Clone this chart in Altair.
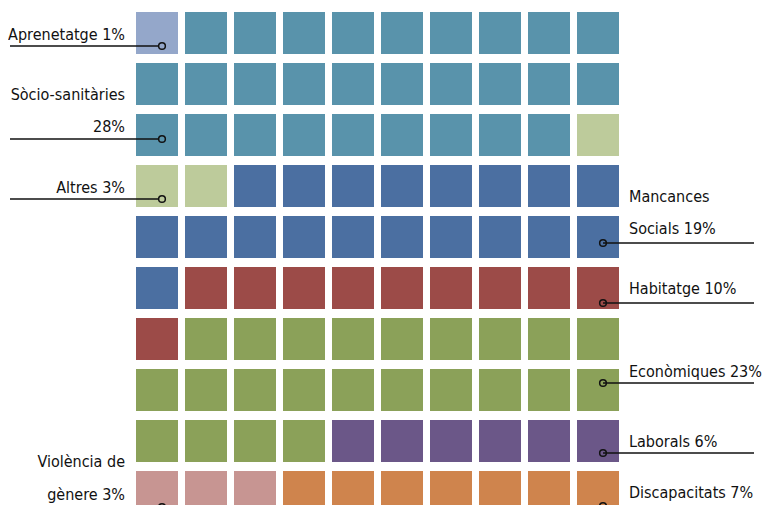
import altair as alt
import pandas as pd

# ---- data ----
categories = ["Aprenetatge", "Sòcio-sanitàries", "Altres", "Mancances Socials",
              "Habitatge", "Econòmiques", "Laborals", "Violència de gènere", "Discapacitats"]
percentages = [1, 28, 3, 19, 10, 23, 6, 3, 7]
colors = ["#94a7ca", "#5993ab", "#bdcb9b", "#4b6fa1", "#9c4b48",
          "#8ba159", "#6b5788", "#c79592", "#cf844d"]

# ---- waffle cells (10 x 10), filled left-to-right, top-to-bottom ----
CELL_W = 42 / 49   # cell width in column units
CELL_H = 42 / 51   # cell height in row units
cells = []
i = 0
for cat, pct in zip(categories, percentages):
    for _ in range(pct):
        r, c = divmod(i, 10)
        cells.append({"cat": cat, "x": c, "x2": c + CELL_W, "y": r, "y2": r + CELL_H})
        i += 1
cells_df = pd.DataFrame(cells)

# ---- annotations (grid units: column = 49px, row = 51px) ----
def gx(px):  # screenshot px -> column units
    return (px - 136) / 49

def gy(py):  # screenshot px -> row units
    return (py - 12) / 51

lbl = {c: f"{p}%" for c, p in zip(categories, percentages)}
texts = [
    # (text, side, baseline px)
    ("Aprenetatge " + lbl["Aprenetatge"], "L", 40),
    ("Sòcio-sanitàries", "L", 100),
    (lbl["Sòcio-sanitàries"], "L", 132),
    ("Altres " + lbl["Altres"], "L", 193),
    ("Violència de", "L", 467),
    ("gènere " + lbl["Violència de gènere"], "L", 500),
    ("Mancances", "R", 202),
    ("Socials " + lbl["Mancances Socials"], "R", 234),
    ("Habitatge " + lbl["Habitatge"], "R", 294),
    ("Econòmiques " + lbl["Econòmiques"], "R", 377),
    ("Laborals " + lbl["Laborals"], "R", 447),
    ("Discapacitats " + lbl["Discapacitats"], "R", 498),
]
text_df = pd.DataFrame([
    {"t": t, "side": s, "x": gx(125) if s == "L" else gx(629), "y": gy(b)}
    for t, s, b in texts
])

leaders = [  # (side, y px)
    ("L", 46), ("L", 139), ("L", 199), ("L", 507),
    ("R", 243), ("R", 303), ("R", 383), ("R", 453), ("R", 506),
]
lead_df = pd.DataFrame([
    {"x": gx(10) if s == "L" else gx(603),
     "x2": gx(159) if s == "L" else gx(754),
     "cx": gx(162) if s == "L" else gx(603),
     "y": gy(yy)}
    for s, yy in leaders
])

W, H = 757, 520
xs = alt.Scale(domain=[gx(8), gx(8 + W)], nice=False, zero=False)
ys = alt.Scale(domain=[gy(8), gy(8 + H)], nice=False, zero=False, reverse=True)

rects = alt.Chart(cells_df).mark_rect().encode(
    x=alt.X("x:Q", scale=xs, axis=None),
    x2="x2:Q",
    y=alt.Y("y:Q", scale=ys, axis=None),
    y2="y2:Q",
    color=alt.Color("cat:N", scale=alt.Scale(domain=categories, range=colors), legend=None),
)

rules = alt.Chart(lead_df).mark_rule(color="#111111", strokeWidth=1.5).encode(
    x=alt.X("x:Q", scale=xs, axis=None),
    x2="x2:Q",
    y=alt.Y("y:Q", scale=ys, axis=None),
)

dots = alt.Chart(lead_df).mark_point(
    filled=False, color="#111111", strokeWidth=1.5, size=45, opacity=1
).encode(
    x=alt.X("cx:Q", scale=xs, axis=None),
    y=alt.Y("y:Q", scale=ys, axis=None),
)

text_style = dict(font="DejaVu Sans Condensed", fontSize=16, color="#111111",
                  baseline="alphabetic")
left_txt = alt.Chart(text_df).transform_filter("datum.side == 'L'").mark_text(
    align="right", **text_style
).encode(
    x=alt.X("x:Q", scale=xs, axis=None),
    y=alt.Y("y:Q", scale=ys, axis=None),
    text="t:N",
)
right_txt = alt.Chart(text_df).transform_filter("datum.side == 'R'").mark_text(
    align="left", **text_style
).encode(
    x=alt.X("x:Q", scale=xs, axis=None),
    y=alt.Y("y:Q", scale=ys, axis=None),
    text="t:N",
)

chart = alt.layer(rects, rules, dots, left_txt, right_txt).properties(
    width=W, height=H, padding=0, autosize=alt.AutoSizeParams(type="none")
).configure_view(stroke=None)

chart.save("out.html", embed_options={"renderer": "svg", "actions": False})
